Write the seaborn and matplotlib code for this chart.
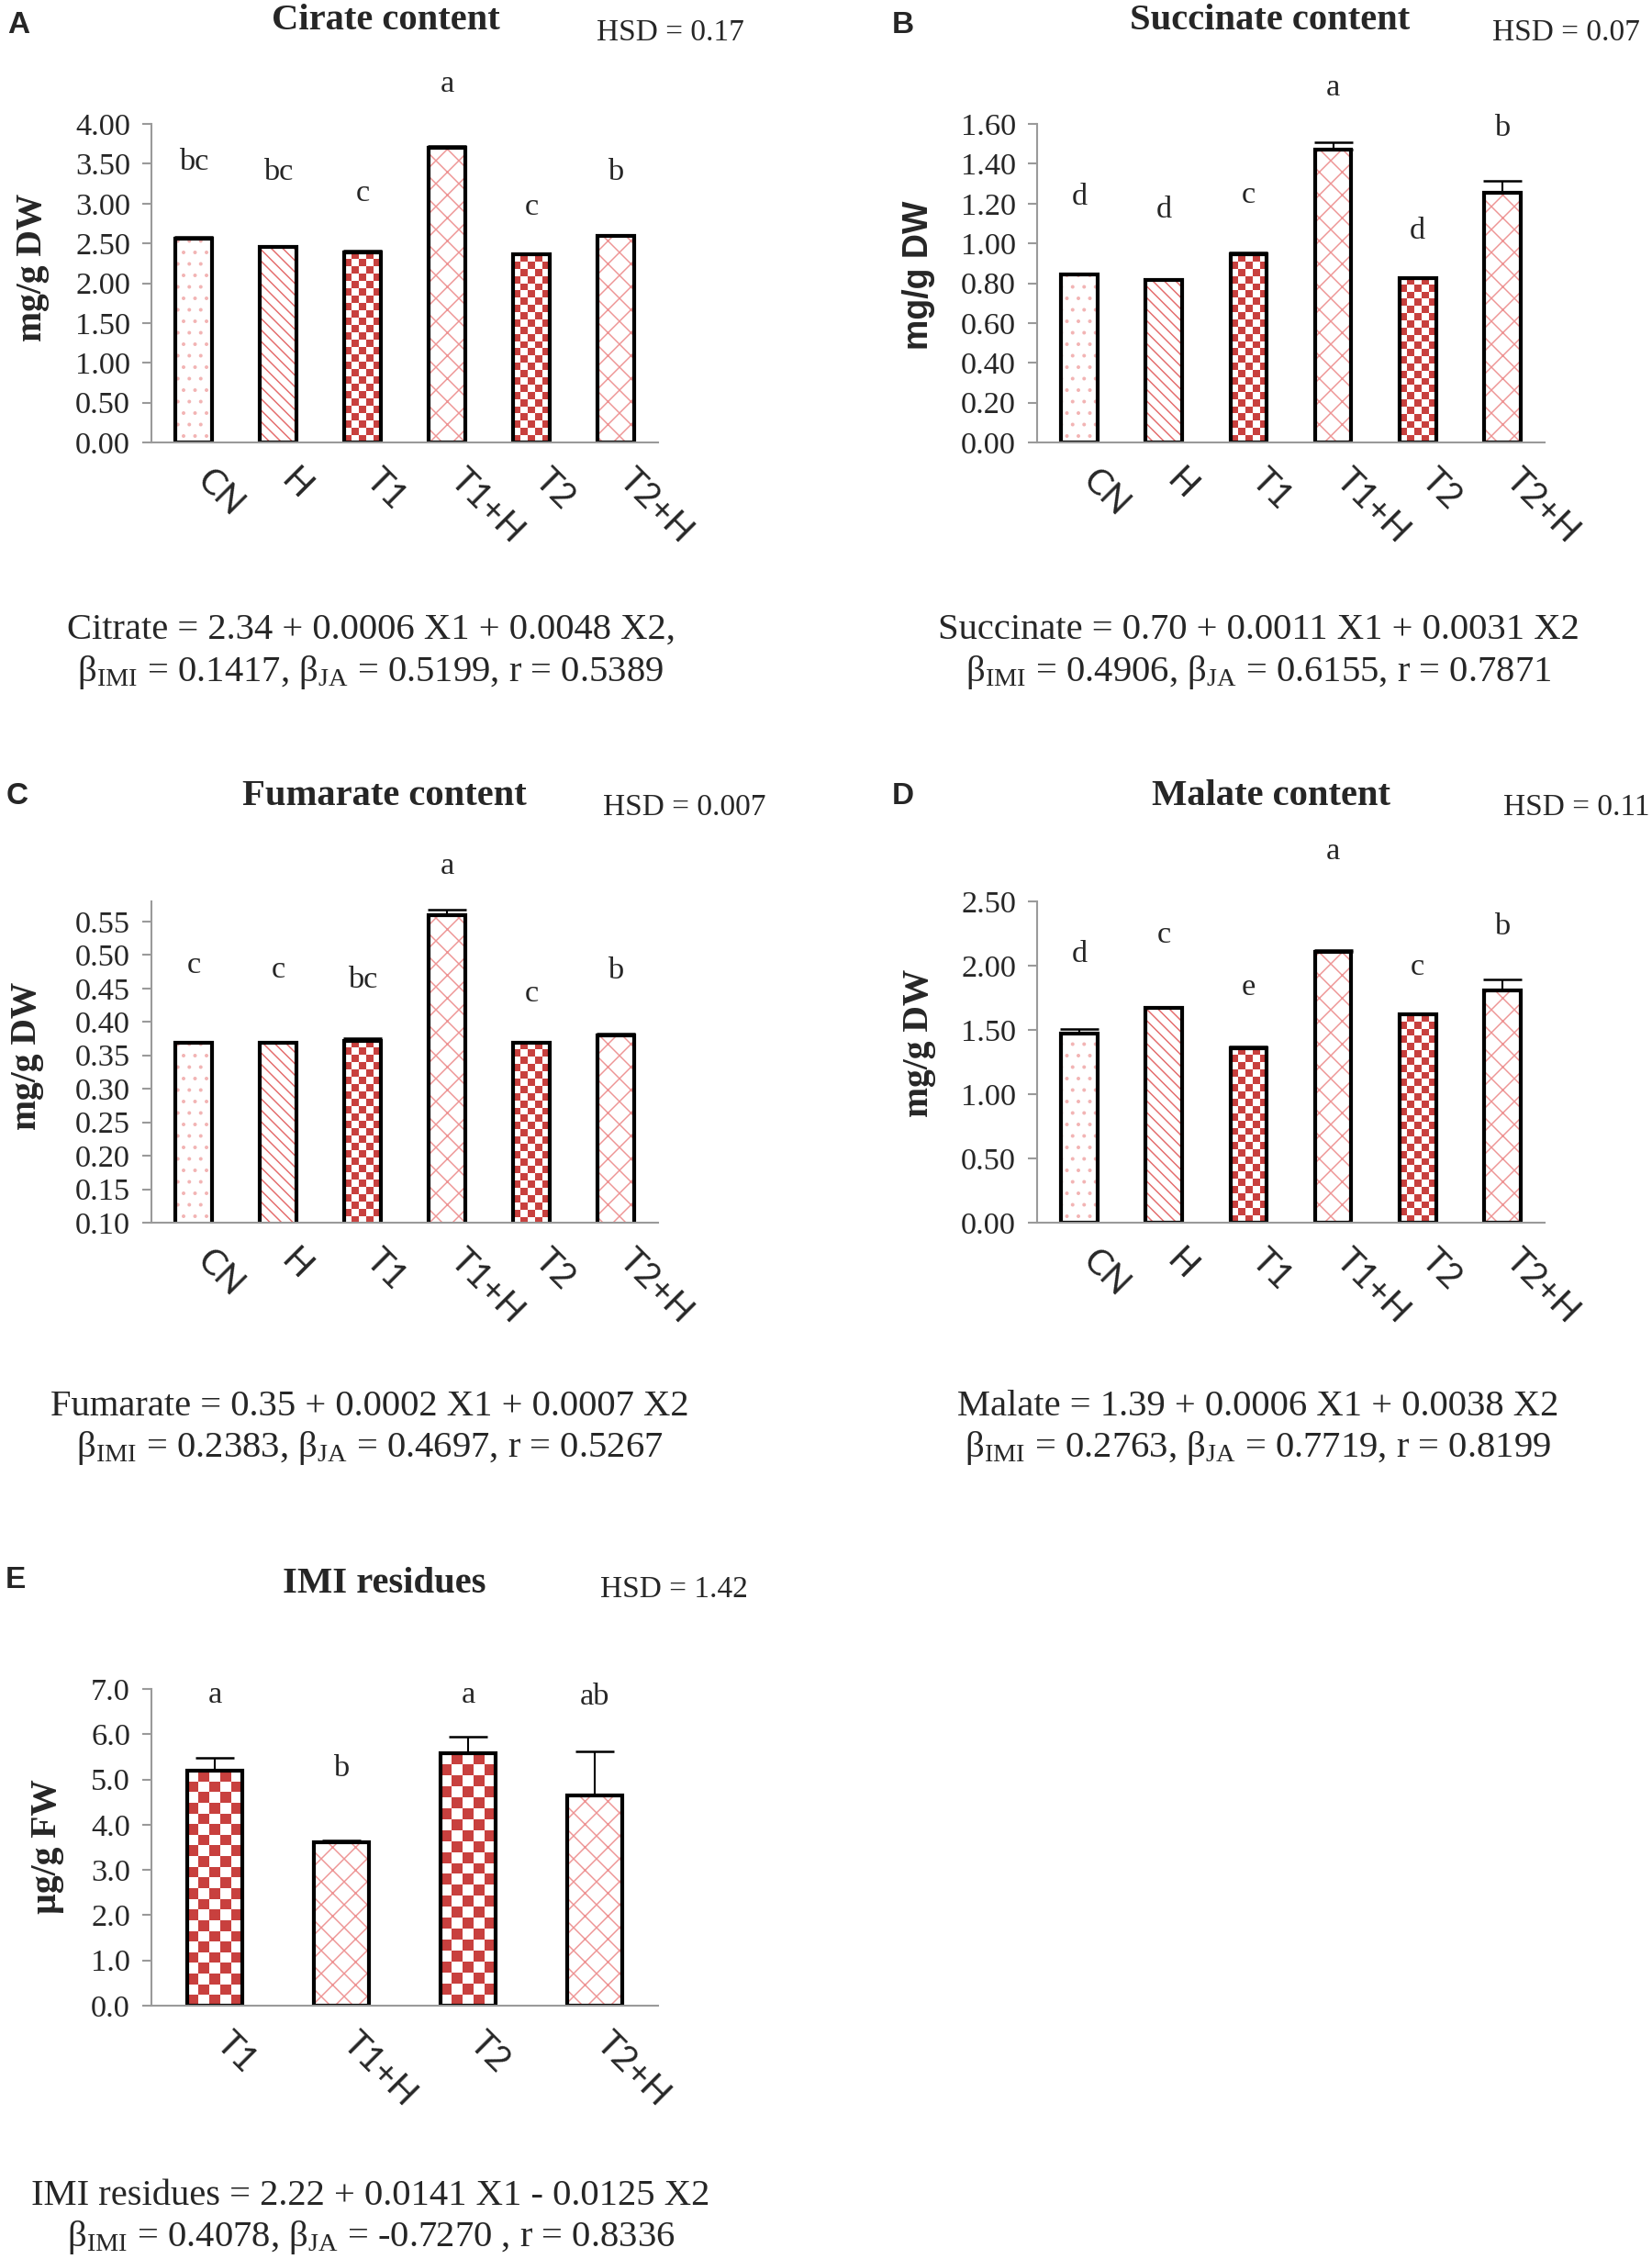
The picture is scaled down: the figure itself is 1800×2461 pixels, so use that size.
import numpy as np
import matplotlib
matplotlib.use("Agg")
import matplotlib.pyplot as plt
from matplotlib.colors import ListedColormap, to_rgba
from matplotlib.ticker import FormatStrFormatter
import seaborn as sns

# --- values ---
cats6 = ["CN", "H", "T1", "T1+H", "T2", "T2+H"]
cats_imi = ["T1", "T1+H", "T2", "T2+H"]

citrate = [2.56, 2.46, 2.39, 3.70, 2.36, 2.59]
citrate_err = [0.02, 0.01, 0.02, 0.02, 0.02, 0.02]
citrate_grp = ["bc", "bc", "c", "a", "c", "b"]
citrate_grp_y = [3.52, 3.39, 3.13, 4.50, 2.95, 3.39]

succinate = [0.843, 0.817, 0.944, 1.473, 0.826, 1.255]
succinate_err = [0.005, 0.005, 0.011, 0.037, 0.005, 0.06]
succinate_grp = ["d", "d", "c", "a", "d", "b"]
succinate_grp_y = [1.23, 1.17, 1.24, 1.78, 1.06, 1.58]

fumarate = [0.369, 0.369, 0.372, 0.560, 0.369, 0.380]
fumarate_err = [0.001, 0.001, 0.003, 0.007, 0.001, 0.002]
fumarate_grp = ["c", "c", "bc", "a", "c", "b"]
fumarate_grp_y = [0.484, 0.477, 0.462, 0.632, 0.442, 0.476]

malate = [1.47, 1.67, 1.36, 2.11, 1.62, 1.81]
malate_err = [0.035, 0.01, 0.01, 0.01, 0.005, 0.08]
malate_grp = ["d", "c", "e", "a", "c", "b"]
malate_grp_y = [2.09, 2.24, 1.83, 2.89, 1.99, 2.30]

imi = [5.19, 3.62, 5.57, 4.64]
imi_err = [0.29, 0.04, 0.38, 0.99]
imi_grp = ["a", "b", "a", "ab"]
imi_grp_y = [6.86, 5.23, 6.86, 6.83]

eq_citrate = ["Citrate = 2.34 + 0.0006 X1 + 0.0048 X2,",
              r"β$_{\mathrm{IMI}}$ = 0.1417, β$_{\mathrm{JA}}$ = 0.5199, r = 0.5389"]
eq_succinate = ["Succinate = 0.70 + 0.0011 X1 + 0.0031 X2",
                r"β$_{\mathrm{IMI}}$ = 0.4906, β$_{\mathrm{JA}}$ = 0.6155, r = 0.7871"]
eq_fumarate = ["Fumarate = 0.35 + 0.0002 X1 + 0.0007 X2",
               r"β$_{\mathrm{IMI}}$ = 0.2383, β$_{\mathrm{JA}}$ = 0.4697, r = 0.5267"]
eq_malate = ["Malate = 1.39 + 0.0006 X1 + 0.0038 X2",
             r"β$_{\mathrm{IMI}}$ = 0.2763, β$_{\mathrm{JA}}$ = 0.7719, r = 0.8199"]
eq_imi = ["IMI residues = 2.22 + 0.0141 X1 - 0.0125 X2",
          r"β$_{\mathrm{IMI}}$ = 0.4078, β$_{\mathrm{JA}}$ = -0.7270 , r = 0.8336"]

# --- look ---
sns.set_style("white")
SERIF = "Liberation Serif"
SANS = "Liberation Sans"
TICKSANS = "Lato"
plt.rcParams["font.family"] = [SERIF, "DejaVu Serif"]
plt.rcParams["mathtext.fontset"] = "custom"
plt.rcParams["mathtext.rm"] = SERIF
plt.rcParams["mathtext.it"] = SERIF + ":italic"
plt.rcParams["mathtext.bf"] = SERIF + ":bold"
plt.rcParams["hatch.linewidth"] = 0.7

GRAY = "#9A9A9A"
RED = "#C8403E"
check_cmap = ListedColormap(["white", RED])

# bar fill per treatment: (kind, hatch, hatch colour)
bar_style = {
    "CN": ("hatch", "..", "#F2B4B4"),
    "H": ("hatch", "\\" * 4, "#E46A6A"),
    "T1": ("check", None, None),
    "T2": ("check", None, None),
    "T1+H": ("hatch", "xx", "#EE9494"),
    "T2+H": ("hatch", "xx", "#EE9494"),
}

W, H, DPI = 1800, 2461, 150
fig = plt.figure(figsize=(W / DPI, H / DPI), dpi=DPI)


def px_axes(x0, y0, x1, y1):
    return fig.add_axes([x0 / W, 1 - y1 / H, (x1 - x0) / W, (y1 - y0) / H])


def ftext(x, y, s, **kw):
    fig.text(x / W, 1 - y / H, s, **kw)


def bar_panel(ax, cats, vals, errs, grp, grp_y, ticks, ylim, fmt):
    n = len(cats)
    sns.barplot(x=cats, y=vals, ax=ax, color="white", edgecolor="black",
                linewidth=2, width=0.43, errorbar=None, zorder=2)
    ax.set_xlim(-0.5, n - 0.5)
    ax.set_ylim(*ylim)
    for cat, p in zip(cats, ax.patches):
        kind, hatch, hcol = bar_style[cat]
        if kind == "hatch":
            p.set_hatch(hatch)
            try:
                p.set_hatchcolor(hcol)
            except AttributeError:
                p._hatch_color = to_rgba(hcol)
        else:
            p.set_facecolor("none")
            bx, by, bw, bh = p.get_x(), p.get_y(), p.get_width(), p.get_height()
            (x0, y0), (x1, y1) = ax.transData.transform([(bx, by), (bx + bw, by + bh)])
            ncol = 5
            nrow = max(1, int(round((y1 - y0) / ((x1 - x0) / ncol))))
            board = np.indices((nrow, ncol)).sum(axis=0) % 2
            ax.imshow(board, cmap=check_cmap, vmin=0, vmax=1, aspect="auto",
                      interpolation="nearest", extent=(bx, bx + bw, by, by + bh),
                      zorder=1.5)
    ax.errorbar(range(n), vals, yerr=[np.zeros(n), errs], fmt="none",
                ecolor="black", elinewidth=1, capsize=10, capthick=1.2, zorder=3)
    for i, (g, gy) in enumerate(zip(grp, grp_y)):
        ax.text(i, gy, g, ha="center", va="center", fontsize=16.5,
                family=SERIF, clip_on=False)
    ax.set_xlim(-0.5, n - 0.5)
    ax.set_ylim(*ylim)
    ax.set_yticks(ticks)
    ax.yaxis.set_major_formatter(FormatStrFormatter(fmt))
    ax.set_xticks(np.arange(n) - 0.04)
    ax.set_xticklabels(cats, rotation=-45, ha="left", va="top",
                       family=TICKSANS, fontsize=18.5)
    ax.set_xlabel("")
    ax.set_ylabel("")
    for s in ["top", "right"]:
        ax.spines[s].set_visible(False)
    for s in ["left", "bottom"]:
        ax.spines[s].set_color(GRAY)
        ax.spines[s].set_linewidth(1)
    ax.tick_params(axis="y", length=5, width=1, color=GRAY, pad=6,
                   labelsize=16.5, direction="out", left=True)
    ax.tick_params(axis="x", length=0, pad=11)
    for lab in ax.get_yticklabels():
        lab.set_family(SERIF)
    ax.set_facecolor("white")


# A - citrate
ax = px_axes(165, 135, 717, 482)
bar_panel(ax, cats6, citrate, citrate_err, citrate_grp, citrate_grp_y,
          np.arange(0, 4.01, 0.5), (0, 4.0), "%.2f")
ftext(8, 36, "A", family=SANS, weight="bold", fontsize=16, ha="left")
ftext(420, 32, "Cirate content", weight="bold", fontsize=19.5, ha="center")
ftext(650, 44, "HSD = 0.17", fontsize=16, ha="left")
ftext(35, 291, "mg/g DW", weight="bold", fontsize=19, rotation=90,
      ha="center", va="center")
for k, line in enumerate(eq_citrate):
    ftext(404, 686 + 46 * k, line, fontsize=19.5, ha="center", va="center")

# B - succinate
ax = px_axes(1130, 135, 1683, 482)
bar_panel(ax, cats6, succinate, succinate_err, succinate_grp, succinate_grp_y,
          np.arange(0, 1.61, 0.2), (0, 1.6), "%.2f")
ftext(972, 36, "B", family=SANS, weight="bold", fontsize=16, ha="left")
ftext(1384, 32, "Succinate content", weight="bold", fontsize=19.5, ha="center")
ftext(1626, 44, "HSD = 0.07", fontsize=16, ha="left")
ftext(1001, 300, "mg/g DW", family=SANS, weight="bold", fontsize=18,
      rotation=90, ha="center", va="center")
for k, line in enumerate(eq_succinate):
    ftext(1371, 686 + 46 * k, line, fontsize=19.5, ha="center", va="center")

# C - fumarate
ax = px_axes(165, 982, 717, 1332)
bar_panel(ax, cats6, fumarate, fumarate_err, fumarate_grp, fumarate_grp_y,
          np.arange(0.10, 0.551, 0.05), (0.10, 0.58), "%.2f")
ftext(7, 876, "C", family=SANS, weight="bold", fontsize=16, ha="left")
ftext(419, 877, "Fumarate content", weight="bold", fontsize=19.5, ha="center")
ftext(657, 888, "HSD = 0.007", fontsize=16, ha="left")
ftext(29, 1150, "mg/g DW", weight="bold", fontsize=19, rotation=90,
      ha="center", va="center")
for k, line in enumerate(eq_fumarate):
    ftext(403, 1532 + 46 * k, line, fontsize=19.5, ha="center", va="center")

# D - malate
ax = px_axes(1130, 982, 1683, 1332)
bar_panel(ax, cats6, malate, malate_err, malate_grp, malate_grp_y,
          np.arange(0, 2.51, 0.5), (0, 2.5), "%.2f")
ftext(972, 876, "D", family=SANS, weight="bold", fontsize=16, ha="left")
ftext(1385, 877, "Malate content", weight="bold", fontsize=19.5, ha="center")
ftext(1638, 888, "HSD = 0.11", fontsize=16, ha="left")
ftext(1001, 1136, "mg/g DW", weight="bold", fontsize=19, rotation=90,
      ha="center", va="center")
for k, line in enumerate(eq_malate):
    ftext(1371, 1532 + 46 * k, line, fontsize=19.5, ha="center", va="center")

# E - IMI residues
ax = px_axes(165, 1840, 717, 2185)
bar_panel(ax, cats_imi, imi, imi_err, imi_grp, imi_grp_y,
          np.arange(0, 7.01, 1.0), (0, 7.0), "%.1f")
ftext(6, 1730, "E", family=SANS, weight="bold", fontsize=16, ha="left")
ftext(419, 1735, "IMI residues", weight="bold", fontsize=19.5, ha="center")
ftext(654, 1740, "HSD = 1.42", fontsize=16, ha="left")
ftext(52, 2012, "µg/g FW", weight="bold", fontsize=19, rotation=90,
      ha="center", va="center")
for k, line in enumerate(eq_imi):
    ftext(404, 2393 + 44 * k, line, fontsize=19.5, ha="center", va="center")

fig.savefig("out.png", dpi=DPI, facecolor="white")
